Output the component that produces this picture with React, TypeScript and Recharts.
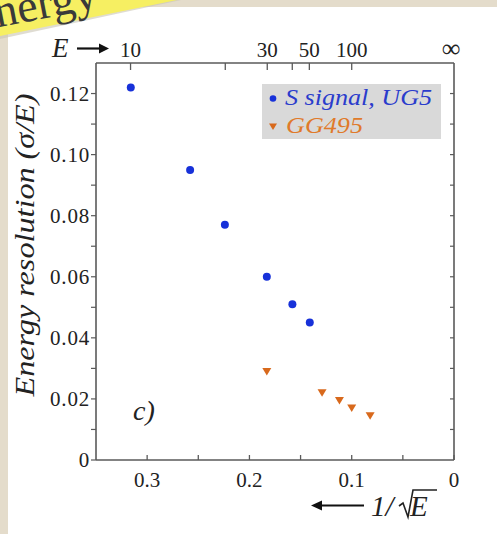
import React from 'react';
import { ScatterChart, Scatter, XAxis, YAxis } from 'recharts';

// ---- data ----
const ugX = [0.316, 0.258, 0.224, 0.183, 0.158, 0.141];
const ugY = [0.122, 0.095, 0.077, 0.06, 0.051, 0.045];
const ggX = [0.183, 0.129, 0.112, 0.1, 0.082];
const ggY = [0.029, 0.022, 0.0195, 0.017, 0.0145];

const xTicks = [0, 0.05, 0.1, 0.15, 0.2, 0.25, 0.3];
const xTickLabels = ['0', '', '0.1', '', '0.2', '', '0.3'];
const yTicks = [0, 0.01, 0.02, 0.03, 0.04, 0.05, 0.06, 0.07, 0.08, 0.09, 0.1, 0.11, 0.12];
const yTickLabels = ['0', '', '0.02', '', '0.04', '', '0.06', '', '0.08', '', '0.10', '', '0.12'];
const energyTicks = [10, 20, 30, 40, 50, 100, Infinity];
const energyTickLabels = ['10', '', '30', '', '50', '100', '\u221E'];

const seriesNames = ['S signal, UG5', 'GG495'];

const W = 497;
const H = 534;
const FONT = '"Liberation Serif", "Times New Roman", serif';
const AX = '#5a5a5a';
const BLUE = '#1731d9';
const ORANGE = '#d8691c';

const BottomTick = (p: any) => {
  const { x, y, index } = p;
  const label = xTickLabels[index];
  return (
    <g>
      <line x1={x} x2={x} y1={y} y2={y - 5} stroke={AX} strokeWidth={1.3} />
      {label ? (
        <text x={x} y={y + 27} textAnchor="middle" fontFamily={FONT} fontSize={21} fill="#222">
          {label}
        </text>
      ) : null}
    </g>
  );
};

const TopTick = (p: any) => {
  const { x, y, index } = p;
  const label = energyTickLabels[index];
  const isInf = index === energyTicks.length - 1;
  return (
    <g>
      {!isInf && <line x1={x} x2={x} y1={y} y2={y + 7} stroke={AX} strokeWidth={1.3} />}
      {label ? (
        <text x={isInf ? x - 3 : x} y={y - 6} textAnchor="middle" fontFamily={FONT} fontSize={isInf ? 26 : 21} fill="#222">
          {label}
        </text>
      ) : null}
    </g>
  );
};

const LeftTick = (p: any) => {
  const { x, y, index } = p;
  const label = yTickLabels[index];
  return (
    <g>
      <line x1={x} x2={x - 5} y1={y} y2={y} stroke={AX} strokeWidth={1.2} />
      {label ? (
        <text x={x - 6} y={y + 7} textAnchor="end" fontFamily={FONT} fontSize={21} fill="#222" letterSpacing={0.8}>
          {label}
        </text>
      ) : null}
    </g>
  );
};

const RightTick = (p: any) => {
  const { x, y, index } = p;
  if (index === 0) return <g />;
  return <line x1={x} x2={x - 4} y1={y} y2={y} stroke={AX} strokeWidth={1.2} />;
};

const Dot = (p: any) => <circle cx={p.cx} cy={p.cy} r={4} fill={BLUE} />;
const Tri = (p: any) => (
  <polygon
    points={`${p.cx - 4.5},${p.cy - 3.5} ${p.cx + 4.5},${p.cy - 3.5} ${p.cx},${p.cy + 4}`}
    fill={ORANGE}
  />
);

export default function App() {
  const ugData = ugX.map((x, i) => ({ x, y: ugY[i] }));
  const ggData = ggX.map((x, i) => ({ x, y: ggY[i] }));
  const topTicks = energyTicks.map((e) => 1 / Math.sqrt(e));

  return (
    <div style={{ position: 'absolute', left: 0, top: 0, width: W, height: H, overflow: 'hidden', background: '#e4dccb' }}>
      <div style={{ position: 'absolute', left: 8, top: 7, right: 0, bottom: 0, background: '#ffffff' }} />
      <div style={{ position: 'absolute', left: 0, top: 0 }}>
        <ScatterChart width={W} height={H} margin={{ top: 0, right: 0, bottom: 0, left: 0 }}>
          <XAxis
            xAxisId="b"
            type="number"
            dataKey="x"
            orientation="bottom"
            domain={[0, 0.35]}
            reversed
            ticks={xTicks}
            interval={0}
            height={74}
            tickSize={0}
            tickMargin={0}
            tickLine={false}
            axisLine={{ stroke: AX, strokeWidth: 1.6 }}
            tick={(p: any) => <BottomTick {...p} />}
          />
          <XAxis
            xAxisId="t"
            type="number"
            dataKey="x"
            orientation="top"
            domain={[0, 0.35]}
            reversed
            ticks={topTicks}
            interval={0}
            height={63}
            tickSize={0}
            tickMargin={0}
            tickLine={false}
            axisLine={{ stroke: AX, strokeWidth: 1.6 }}
            tick={(p: any) => <TopTick {...p} />}
          />
          <YAxis
            yAxisId="l"
            type="number"
            dataKey="y"
            orientation="left"
            domain={[0, 0.13]}
            ticks={yTicks}
            interval={0}
            width={96}
            tickSize={0}
            tickMargin={0}
            tickLine={false}
            axisLine={{ stroke: AX, strokeWidth: 1.6 }}
            tick={(p: any) => <LeftTick {...p} />}
          />
          <YAxis
            yAxisId="r"
            type="number"
            dataKey="y"
            orientation="right"
            domain={[0, 0.13]}
            ticks={yTicks}
            interval={0}
            width={43}
            tickSize={0}
            tickMargin={0}
            tickLine={false}
            axisLine={{ stroke: AX, strokeWidth: 1.6 }}
            tick={(p: any) => <RightTick {...p} />}
          />
          <Scatter name={seriesNames[0]} data={ugData} xAxisId="b" yAxisId="l" shape={Dot} isAnimationActive={false} />
          <Scatter name={seriesNames[1]} data={ggData} xAxisId="t" yAxisId="r" shape={Tri} isAnimationActive={false} />
        </ScatterChart>
      </div>
      <svg width={W} height={H} style={{ position: 'absolute', left: 0, top: 0, pointerEvents: 'none' }}>
        {/* yellow slide label */}
        <polygon points="0,0 181,0 0,39" fill="#c9c4b4" opacity={0.6} />
        <polygon points="0,0 177,0 0,36" fill="#f6ef62" />
        <text x={-31} y={27} transform="rotate(-11 0 27)" fontFamily={FONT} fontSize={46} fill="#3a3a3a">
          Energy
        </text>

        {/* E -> */}
        <text x={52} y={57} fontFamily={FONT} fontStyle="italic" fontSize={27} fill="#222">E</text>
        <line x1={77} y1={48.5} x2={101} y2={48.5} stroke="#111" strokeWidth={2.2} />
        <polygon points="109,48.5 99,43.5 99,53.5" fill="#111" />

        {/* y label */}
        <text
          x={34}
          y={245}
          transform="rotate(-90 34 245)"
          textAnchor="middle"
          fontFamily={FONT}
          fontStyle="italic"
          fontSize={27}
          fill="#222"
          textLength={303}
          lengthAdjust="spacingAndGlyphs"
        >
          Energy resolution (σ/E)
        </text>

        {/* c) */}
        <text x={133} y={420} fontFamily={FONT} fontStyle="italic" fontSize={28} fill="#222">c)</text>

        {/* x label: <- 1/sqrt(E) */}
        <line x1={320} y1={505.5} x2={364} y2={505.5} stroke="#111" strokeWidth={2.2} />
        <polygon points="311,505.5 322,500.5 322,510.5" fill="#111" />
        <text x={371} y={516} fontFamily={FONT} fontStyle="italic" fontSize={29} fill="#222">1/</text>
        <polyline points="399,506 403,503 408,517 413,490 437,490" fill="none" stroke="#222" strokeWidth={1.6} />
        <text x={410} y={516} fontFamily={FONT} fontStyle="italic" fontSize={29} fill="#222">E</text>

        {/* legend */}
        <rect x={262} y={84} width={179} height={55} fill="#d9d9d9" />
        <circle cx={273} cy={98.5} r={3.3} fill={BLUE} />
        <text x={285} y={105} fontFamily={FONT} fontStyle="italic" fontSize={23} fill="#2a3ccc" textLength={147} lengthAdjust="spacingAndGlyphs">
          {seriesNames[0]}
        </text>
        <polygon points="269,123.5 277,123.5 273,130" fill={ORANGE} />
        <text x={286} y={133} fontFamily={FONT} fontStyle="italic" fontSize={23} fill="#e07a2a" textLength={77} lengthAdjust="spacingAndGlyphs">
          {seriesNames[1]}
        </text>
      </svg>
    </div>
  );
}
